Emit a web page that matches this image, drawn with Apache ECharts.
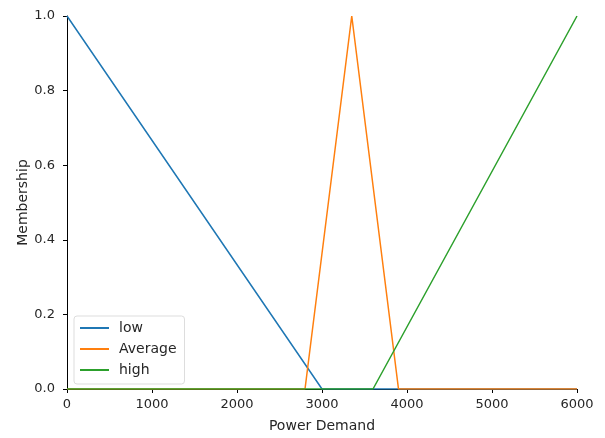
<!DOCTYPE html>
<html>
<head>
<meta charset="utf-8">
<script src="https://cdn.jsdelivr.net/npm/echarts@6/dist/echarts.min.js"></script>
<style>
  html, body { margin: 0; padding: 0; background: #fff; }
  #chart { width: 605px; height: 438px; }
</style>
</head>
<body>
<div id="chart"></div>
<script>
// Membership functions over the power-demand universe (breakpoints of each triangle/ramp)
const lowX = [0, 3000, 6000];
const lowY = [1, 0, 0];
const averageX = [0, 2800, 3350, 3900, 6000];
const averageY = [0, 0, 1, 0, 0];
const highX = [0, 3600, 6000];
const highY = [0, 0, 1];

const xTicks = [0, 1000, 2000, 3000, 4000, 5000, 6000];
const yTicks = [0.0, 0.2, 0.4, 0.6, 0.8, 1.0];

const pairs = (xs, ys) => xs.map((x, i) => [x, ys[i]]);

const FONT = 'DejaVu Sans';
const TEXT = '#262626';

const chart = echarts.init(document.getElementById('chart'), null, { renderer: 'canvas' });

const lineSeries = (name, data, color, z) => ({
  name, type: 'line', data, showSymbol: false, symbol: 'none',
  lineStyle: { color, width: 1.5 }, itemStyle: { color },
  animation: false, z
});

chart.setOption({
  animation: false,
  backgroundColor: '#ffffff',
  grid: { left: 67, right: 28, top: 16, bottom: 45, containLabel: false },
  xAxis: {
    type: 'value', min: xTicks[0], max: xTicks[xTicks.length - 1], interval: 1000,
    name: 'Power Demand', nameLocation: 'middle', nameGap: 30, nameMoveOverlap: false,
    nameTextStyle: { fontFamily: FONT, fontSize: 14, color: TEXT },
    axisLine: { show: true, lineStyle: { color: '#000', width: 1 } },
    axisTick: { show: true, length: 4, lineStyle: { color: '#000' } },
    axisLabel: { fontFamily: FONT, fontSize: 13, color: TEXT, margin: 9,
      formatter: v => String(v) },
    splitLine: { show: false }
  },
  yAxis: {
    type: 'value', min: yTicks[0], max: yTicks[yTicks.length - 1], interval: 0.2,
    name: 'Membership', nameLocation: 'middle', nameGap: 37, nameMoveOverlap: false,
    nameTextStyle: { fontFamily: FONT, fontSize: 14, color: TEXT },
    axisLine: { show: true, lineStyle: { color: '#000', width: 1 } },
    axisTick: { show: true, length: 4, lineStyle: { color: '#000' } },
    axisLabel: { fontFamily: FONT, fontSize: 13, color: TEXT, margin: 12,
      formatter: v => v.toFixed(1) },
    splitLine: { show: false }
  },
  legend: {
    orient: 'vertical', left: 74, top: 316,
    backgroundColor: '#ffffff', borderColor: '#dddddd', borderWidth: 1, borderRadius: 3,
    padding: [5, 8, 7, 6], itemGap: 7, itemWidth: 29, itemHeight: 2, icon: 'rect',
    textStyle: { fontFamily: FONT, fontSize: 14, color: TEXT, padding: [0, 0, 0, 5] },
    data: ['low', 'Average', 'high']
  },
  series: [
    lineSeries('low', pairs(lowX, lowY), '#1f77b4', 2),
    lineSeries('Average', pairs(averageX, averageY), '#ff7f0e', 3),
    lineSeries('high', pairs(highX, highY), '#2ca02c', 4)
  ]
});
</script>
</body>
</html>
